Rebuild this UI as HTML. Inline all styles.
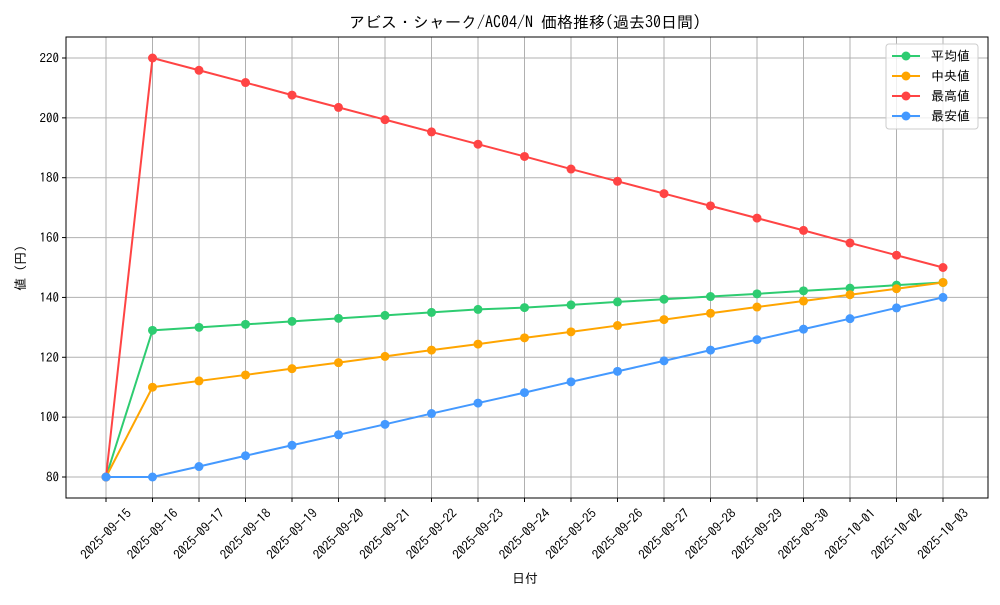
<!DOCTYPE html>
<html><head><meta charset="utf-8">
<style>
body{margin:0;background:#fff;}
svg text{font-family:"IPAGothic","Noto Sans CJK JP",sans-serif;}
</style></head>
<body>
<svg id="chart" width="1000" height="600" xmlns="http://www.w3.org/2000/svg">
<rect width="1000" height="600" fill="#fff"/>
<text x="525" y="28" text-anchor="middle" font-size="16">アビス・シャーク/AC04/N 価格推移(過去30日間)</text>
<text x="525" y="583" text-anchor="middle" font-size="13">日付</text>
<text transform="translate(25,268) rotate(-90)" text-anchor="middle" font-size="13">値 (円)</text>
<g id="grid"></g><g id="series"></g><g id="axes"></g>
<g>
<rect x="886" y="44" width="92" height="85" rx="3" fill="#fff" fill-opacity="0.8" stroke="#ccc"/>
<g id="legend"></g>
</g>
</svg>
<script>
const dates=["2025-09-15","2025-09-16","2025-09-17","2025-09-18","2025-09-19","2025-09-20","2025-09-21","2025-09-22","2025-09-23","2025-09-24","2025-09-25","2025-09-26","2025-09-27","2025-09-28","2025-09-29","2025-09-30","2025-10-01","2025-10-02","2025-10-03"];
const avgValues=[80,129,130,131,132,133,134,135,136,136.6,137.5,138.5,139.4,140.3,141.2,142.2,143.1,144.1,145];
const medianValues=[80,110,112.1,114.1,116.2,118.2,120.3,122.4,124.4,126.5,128.5,130.6,132.6,134.7,136.8,138.8,140.9,142.9,145];
const maxValues=[80,220,215.9,211.8,207.6,203.5,199.4,195.3,191.2,187.1,182.9,178.8,174.7,170.6,166.5,162.4,158.2,154.1,150];
const minValues=[80,80,83.5,87.1,90.6,94.1,97.6,101.2,104.7,108.2,111.8,115.3,118.8,122.4,125.9,129.4,132.9,136.5,140];
const yTicks=[80,100,120,140,160,180,200,220];
const seriesNames=["平均値","中央値","最高値","最安値"];
const colors=["#2ecc71","#ffa500","#ff4444","#4499ff"];
const NS="http://www.w3.org/2000/svg";
const L=66,R=988,T=37,B=498;
const x=i=>106+i*(943-106)/(dates.length-1);
const y=v=>477-(v-80)*(477-58)/140;
function mk(tag,attrs,parent){const e=document.createElementNS(NS,tag);for(const k in attrs)e.setAttribute(k,attrs[k]);parent.appendChild(e);return e;}
const grid=document.getElementById('grid'),axes=document.getElementById('axes'),ser=document.getElementById('series'),leg=document.getElementById('legend');
dates.forEach((d,i)=>{
 const g=mk('line',{x1:x(i),x2:x(i),y1:T,y2:B,stroke:'#b0b0b0','stroke-width':1},grid);
 
 
 const t=mk('line',{x1:x(i),x2:x(i),y1:B,y2:B+4,stroke:'#000'},axes);
 
 
 const tx=mk('text',{x:0,y:4.5,'font-size':13,'text-anchor':'middle',transform:`translate(${x(i)},${B+36}) rotate(-45)`},axes);
 tx.textContent=d;
 
 
});
yTicks.forEach(v=>{
 const g=mk('line',{x1:L,x2:R,y1:y(v),y2:y(v),stroke:'#b0b0b0','stroke-width':1},grid);
 
 
 const t=mk('line',{x1:L-4,x2:L,y1:y(v),y2:y(v),stroke:'#000'},axes);
 
 
 const tx=mk('text',{x:L-7,y:y(v)+4.5,'font-size':13,'text-anchor':'end'},axes);
 tx.textContent=v;
 
 
});
const frame=mk('rect',{x:L,y:T,width:R-L,height:B-T,fill:'none',stroke:'#000','stroke-width':1},axes);


[avgValues,medianValues,maxValues,minValues].forEach((vals,s)=>{
 const p=mk('polyline',{points:vals.map((v,i)=>x(i)+','+y(v)).join(' '),fill:'none',stroke:colors[s],'stroke-width':2},ser);
 
 
 vals.forEach((v,i)=>{
  const c=mk('circle',{cx:x(i),cy:y(v),r:4.5,fill:colors[s]},ser);
  
  
 });
 const ly=56+s*20;
 const ll=mk('line',{x1:892,x2:920,y1:ly,y2:ly,stroke:colors[s],'stroke-width':2},leg);
 
 
 const lc=mk('circle',{cx:906,cy:ly,r:4.5,fill:colors[s]},leg);
 
 
 const lt=mk('text',{x:931,y:ly+4.5,'font-size':13},leg);
 lt.textContent=seriesNames[s];
 
 
});
</script>
</body></html>
